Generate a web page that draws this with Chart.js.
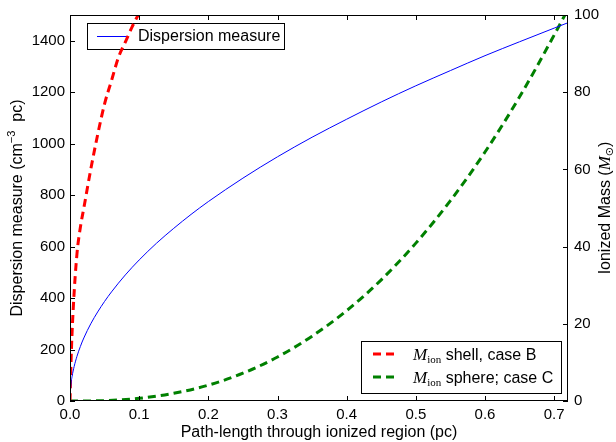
<!DOCTYPE html>
<html>
<head>
<meta charset="utf-8">
<script src="https://cdn.jsdelivr.net/npm/chart.js@4.4.1/dist/chart.umd.min.js"></script>
<style>
    html, body { margin: 0; padding: 0; background: #fff; }
    #wrap { width: 616px; height: 442px; }
</style>
</head>
<body>
<div id="wrap"><canvas id="chart" width="616" height="442"></canvas></div>
<script>
// Dispersion measure along the path (left axis)
const pathLength = [0, 0.001, 0.003, 0.006, 0.01, 0.015, 0.02, 0.03, 0.04, 0.05, 0.06, 0.08, 0.1, 0.125, 0.15, 0.175, 0.2, 0.25, 0.3, 0.35, 0.4, 0.45, 0.5, 0.55, 0.6, 0.65, 0.7, 0.72];
const dispersionMeasure = [0, 55, 95, 134, 173, 212, 245, 300, 346, 387, 424, 490, 548, 613, 671, 725, 775, 866, 949, 1025, 1095, 1162, 1225, 1284, 1342, 1396, 1449, 1470];

// Ionized mass, shell case B (right axis)
const shellLength = [0, 0.002, 0.005, 0.01, 0.015, 0.02, 0.03, 0.04, 0.05, 0.06, 0.07, 0.08, 0.09, 0.1, 0.11];
const shellMass = [0, 13, 25, 38, 45, 50, 60, 69, 77, 83, 89, 93, 97, 100.5, 104];

// Ionized mass, sphere case C (right axis)
const sphereLength = [0, 0.05, 0.1, 0.15, 0.2, 0.25, 0.3, 0.35, 0.4, 0.45, 0.5, 0.55, 0.6, 0.65, 0.7, 0.72];
const sphereMass = [0, 0.1, 0.7, 2.0, 4.1, 7.2, 11.4, 16.8, 23.4, 31.4, 40.9, 51.9, 64.5, 78.8, 94.8, 101.5];

const xTicks = [0, 0.1, 0.2, 0.3, 0.4, 0.5, 0.6, 0.7];
const leftTicks = [0, 200, 400, 600, 800, 1000, 1200, 1400];
const rightTicks = [0, 20, 40, 60, 80, 100];

const SANS = '"Liberation Sans", Arial, Helvetica, sans-serif';
const SERIF = '"Liberation Serif", "DejaVu Serif", serif';

function toPoints(xs, ys) {
    return xs.map((x, i) => ({ x: x, y: ys[i] }));
}

// draw a row of text pieces with different fonts, starting at x
function drawRuns(ctx, x, y, runs) {
    runs.forEach(run => {
        ctx.font = run.font;
        ctx.fillText(run.text, x, y + (run.dy || 0));
        x += ctx.measureText(run.text).width;
    });
    return x;
}

function runsWidth(ctx, runs) {
    let w = 0;
    runs.forEach(run => {
        ctx.font = run.font;
        w += ctx.measureText(run.text).width;
    });
    return w;
}

// frame, inward ticks, axis titles
const framePlugin = {
    id: 'frame',
    afterDatasetsDraw(chart) {
        const ctx = chart.ctx;
        const a = chart.chartArea;
        const sx = chart.scales.x, sy = chart.scales.y, sy1 = chart.scales.y1;
        const tick = 5;
        ctx.save();
        ctx.strokeStyle = '#000';
        ctx.lineWidth = 1;
        ctx.beginPath();
        xTicks.forEach(v => {
            const px = Math.round(sx.getPixelForValue(v)) + 0.5;
            ctx.moveTo(px, a.bottom); ctx.lineTo(px, a.bottom - tick);
            ctx.moveTo(px, a.top); ctx.lineTo(px, a.top + tick);
        });
        leftTicks.forEach(v => {
            const py = Math.round(sy.getPixelForValue(v)) + 0.5;
            ctx.moveTo(a.left, py); ctx.lineTo(a.left + tick, py);
        });
        rightTicks.forEach(v => {
            const py = Math.round(sy1.getPixelForValue(v)) + 0.5;
            ctx.moveTo(a.right, py); ctx.lineTo(a.right - tick, py);
        });
        ctx.stroke();
        ctx.strokeRect(Math.round(a.left) + 0.5, Math.round(a.top) + 0.5,
            Math.round(a.right - a.left) - 1, Math.round(a.bottom - a.top) - 1);
        ctx.restore();
    },
    afterDraw(chart) {
        const ctx = chart.ctx;
        const a = chart.chartArea;
        const midY = (a.top + a.bottom) / 2;
        ctx.save();
        ctx.fillStyle = '#000';
        ctx.textBaseline = 'middle';

        // x title
        ctx.font = '16px ' + SANS;
        ctx.textAlign = 'center';
        ctx.fillText('Path-length through ionized region (pc)', (a.left + a.right) / 2, 433);

        ctx.textAlign = 'left';
        // left title
        const leftRuns = [
            { text: 'Dispersion measure (cm', font: '16px ' + SANS },
            { text: '\u22123', font: '11px ' + SANS, dy: -6 },
            { text: '  pc)', font: '16px ' + SANS }
        ];
        ctx.save();
        ctx.translate(18, midY);
        ctx.rotate(-Math.PI / 2);
        drawRuns(ctx, -runsWidth(ctx, leftRuns) / 2, 0, leftRuns);
        ctx.restore();

        // right title
        const rightRuns = [
            { text: 'Ionized Mass (', font: '16px ' + SANS },
            { text: 'M', font: 'italic 17px ' + SERIF },
            { text: '\u2299', font: '11px "DejaVu Sans", sans-serif', dy: 4 },
            { text: ')', font: '16px ' + SANS }
        ];
        ctx.save();
        ctx.translate(606, midY);
        ctx.rotate(-Math.PI / 2);
        drawRuns(ctx, -runsWidth(ctx, rightRuns) / 2, 0, rightRuns);
        ctx.restore();

        ctx.restore();
    }
};

// upper-left legend sits under the right-axis curves
const legendPlugin = {
    id: 'legends',
    beforeDatasetsDraw(chart) {
        const ctx = chart.ctx;
        const a = chart.chartArea;
        const ds = chart.data.datasets[0];
        const bx = a.left + 17, by = a.top + 8;
        ctx.save();
        ctx.fillStyle = '#fff';
        ctx.fillRect(bx, by, 197, 26);
        ctx.strokeStyle = '#000';
        ctx.lineWidth = 1;
        ctx.strokeRect(bx + 0.5, by + 0.5, 197, 26);
        ctx.strokeStyle = ds.borderColor;
        ctx.lineWidth = ds.borderWidth;
        ctx.beginPath();
        ctx.moveTo(bx + 10, by + 13.5);
        ctx.lineTo(bx + 40, by + 13.5);
        ctx.stroke();
        ctx.fillStyle = '#000';
        ctx.textBaseline = 'middle';
        ctx.font = '16px ' + SANS;
        ctx.fillText(ds.label, bx + 51, by + 14);
        ctx.restore();
    },
    afterDatasetsDraw(chart) {
        const ctx = chart.ctx;
        const bx = 361, by = 341;
        ctx.save();
        ctx.fillStyle = '#fff';
        ctx.fillRect(bx, by, 200, 52);
        ctx.strokeStyle = '#000';
        ctx.lineWidth = 1;
        ctx.strokeRect(bx + 0.5, by + 0.5, 200, 52);
        const rows = [
            { ds: chart.data.datasets[1], y: by + 13, tail: ' shell, case B' },
            { ds: chart.data.datasets[2], y: by + 36, tail: ' sphere; case C' }
        ];
        rows.forEach(r => {
            ctx.strokeStyle = r.ds.borderColor;
            ctx.lineWidth = r.ds.borderWidth;
            ctx.setLineDash(r.ds.borderDash);
            ctx.beginPath();
            ctx.moveTo(bx + 12, r.y);
            ctx.lineTo(bx + 33, r.y);
            ctx.stroke();
            ctx.setLineDash([]);
            ctx.fillStyle = '#000';
            ctx.textBaseline = 'alphabetic';
            drawRuns(ctx, bx + 52, r.y + 6, [
                { text: 'M', font: 'italic 17px ' + SERIF },
                { text: 'ion', font: '11px ' + SERIF, dy: 3 },
                { text: r.tail, font: '16px ' + SANS }
            ]);
        });
        ctx.restore();
    }
};

const ctx = document.getElementById('chart').getContext('2d');
new Chart(ctx, {
    type: 'line',
    data: {
        datasets: [{
            label: 'Dispersion measure',
            data: toPoints(pathLength, dispersionMeasure),
            yAxisID: 'y',
            borderColor: '#0000ff',
            borderWidth: 1,
            pointRadius: 0,
            cubicInterpolationMode: 'monotone',
            fill: false
        }, {
            label: 'M_ion shell, case B',
            data: toPoints(shellLength, shellMass),
            yAxisID: 'y1',
            borderColor: '#ff0000',
            borderWidth: 3,
            borderDash: [8, 5],
            pointRadius: 0,
            cubicInterpolationMode: 'monotone',
            fill: false
        }, {
            label: 'M_ion sphere; case C',
            data: toPoints(sphereLength, sphereMass),
            yAxisID: 'y1',
            borderColor: '#008000',
            borderWidth: 3,
            borderDash: [8, 5],
            pointRadius: 0,
            cubicInterpolationMode: 'monotone',
            fill: false
        }]
    },
    options: {
        responsive: false,
        animation: false,
        layout: { padding: { top: 14, left: 0, right: 0, bottom: 0 } },
        plugins: {
            legend: { display: false },
            tooltip: { enabled: false }
        },
        scales: {
            x: {
                type: 'linear',
                min: 0,
                max: 0.72,
                grid: { display: false, drawTicks: false },
                border: { display: false },
                afterBuildTicks: s => { s.ticks = xTicks.map(v => ({ value: v })); },
                afterFit: s => { s.height = 41; },
                ticks: {
                    autoSkip: false,
                    maxRotation: 0,
                    padding: 5,
                    color: '#000',
                    font: { family: SANS, size: 15 },
                    callback: v => v.toFixed(1)
                }
            },
            y: {
                position: 'left',
                min: 0,
                max: 1500,
                grid: { display: false, drawTicks: false },
                border: { display: false },
                afterBuildTicks: s => { s.ticks = leftTicks.map(v => ({ value: v })); },
                afterFit: s => { s.width = 70; },
                ticks: {
                    padding: 5,
                    color: '#000',
                    font: { family: SANS, size: 15 },
                    callback: v => String(v)
                }
            },
            y1: {
                position: 'right',
                min: 0,
                max: 100,
                grid: { display: false, drawTicks: false },
                border: { display: false },
                afterBuildTicks: s => { s.ticks = rightTicks.map(v => ({ value: v })); },
                afterFit: s => { s.width = 48; },
                ticks: {
                    padding: 6,
                    color: '#000',
                    font: { family: SANS, size: 15 },
                    callback: v => String(v)
                }
            }
        }
    },
    plugins: [legendPlugin, framePlugin]
});
</script>
</body>
</html>
